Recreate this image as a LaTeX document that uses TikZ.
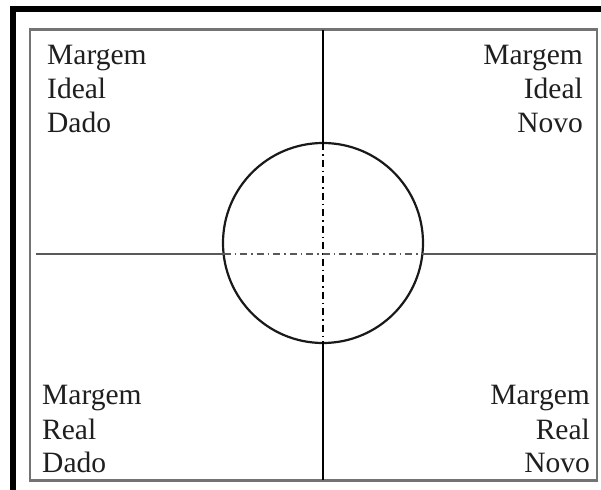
\documentclass[tikz,border=0pt]{standalone}
\usepackage{fontspec}
\setmainfont{Liberation Serif}
\begin{document}
\begin{tikzpicture}[x=1pt,y=-1pt,
  lbl/.style={inner sep=0pt,font=\fontsize{29.5}{33.5}\selectfont,text=black!88},
  outerframe/.style={line width=6pt,black},
  innerframe/.style={line width=2.4pt,black!55},
  vline/.style={line width=2pt,black},
  hline/.style={line width=2.8pt,black!65},
  dashdot/.style={dash pattern=on 7pt off 4pt on 1.5pt off 4pt},
  circ/.style={line width=2.2pt,black!90}]
\useasboundingbox (0,0) rectangle (601,489);
\fill[white] (0,0) rectangle (601,489);
% outer frame (cropped at right and bottom)
\draw[outerframe] (13,9.5) rectangle (640,530);
% inner frame
\draw[innerframe] (30,29.5) rectangle (597,480.5);
% circle
\node[draw,circ,circle,minimum size=200pt,inner sep=0pt] (c) at (323,243) {};
\coordinate (vt) at (323,30.5);
\coordinate (vb) at (323,479.5);
\coordinate (ct) at (323,143);
\coordinate (cb) at (323,343);
\coordinate (hl) at (36,254);
\coordinate (hr) at (596,254);
\coordinate (cl) at (223.6,254);
\coordinate (cr) at (422.4,254);
\draw[vline] (vt) -- (ct);
\draw[vline] (cb) -- (vb);
\draw[vline,line width=1.6pt,dashdot] (ct) -- (cb);
\draw[hline] (hl) -- (cl);
\draw[hline] (cr) -- (hr);
\draw[hline,line width=2.2pt,dashdot] (cl) -- (cr);
% labels
\node[lbl,anchor=base west] (tl1) at (47,65) {Margem};
\node[lbl,anchor=base west] (tl2) at (47,99) {Ideal};
\node[lbl,anchor=base west] (tl3) at (47,132) {Dado};
\node[lbl,anchor=base east] (tr1) at (583,65) {Margem};
\node[lbl,anchor=base east] (tr2) at (583,99) {Ideal};
\node[lbl,anchor=base east] (tr3) at (583,132) {Novo};
\node[lbl,anchor=base west] (bl1) at (42,404) {Margem};
\node[lbl,anchor=base west] (bl2) at (42,439) {Real};
\node[lbl,anchor=base west] (bl3) at (42,472) {Dado};
\node[lbl,anchor=base east] (br1) at (590,404) {Margem};
\node[lbl,anchor=base east] (br2) at (590,439) {Real};
\node[lbl,anchor=base east] (br3) at (590,472) {Novo};
\end{tikzpicture}
\end{document}
